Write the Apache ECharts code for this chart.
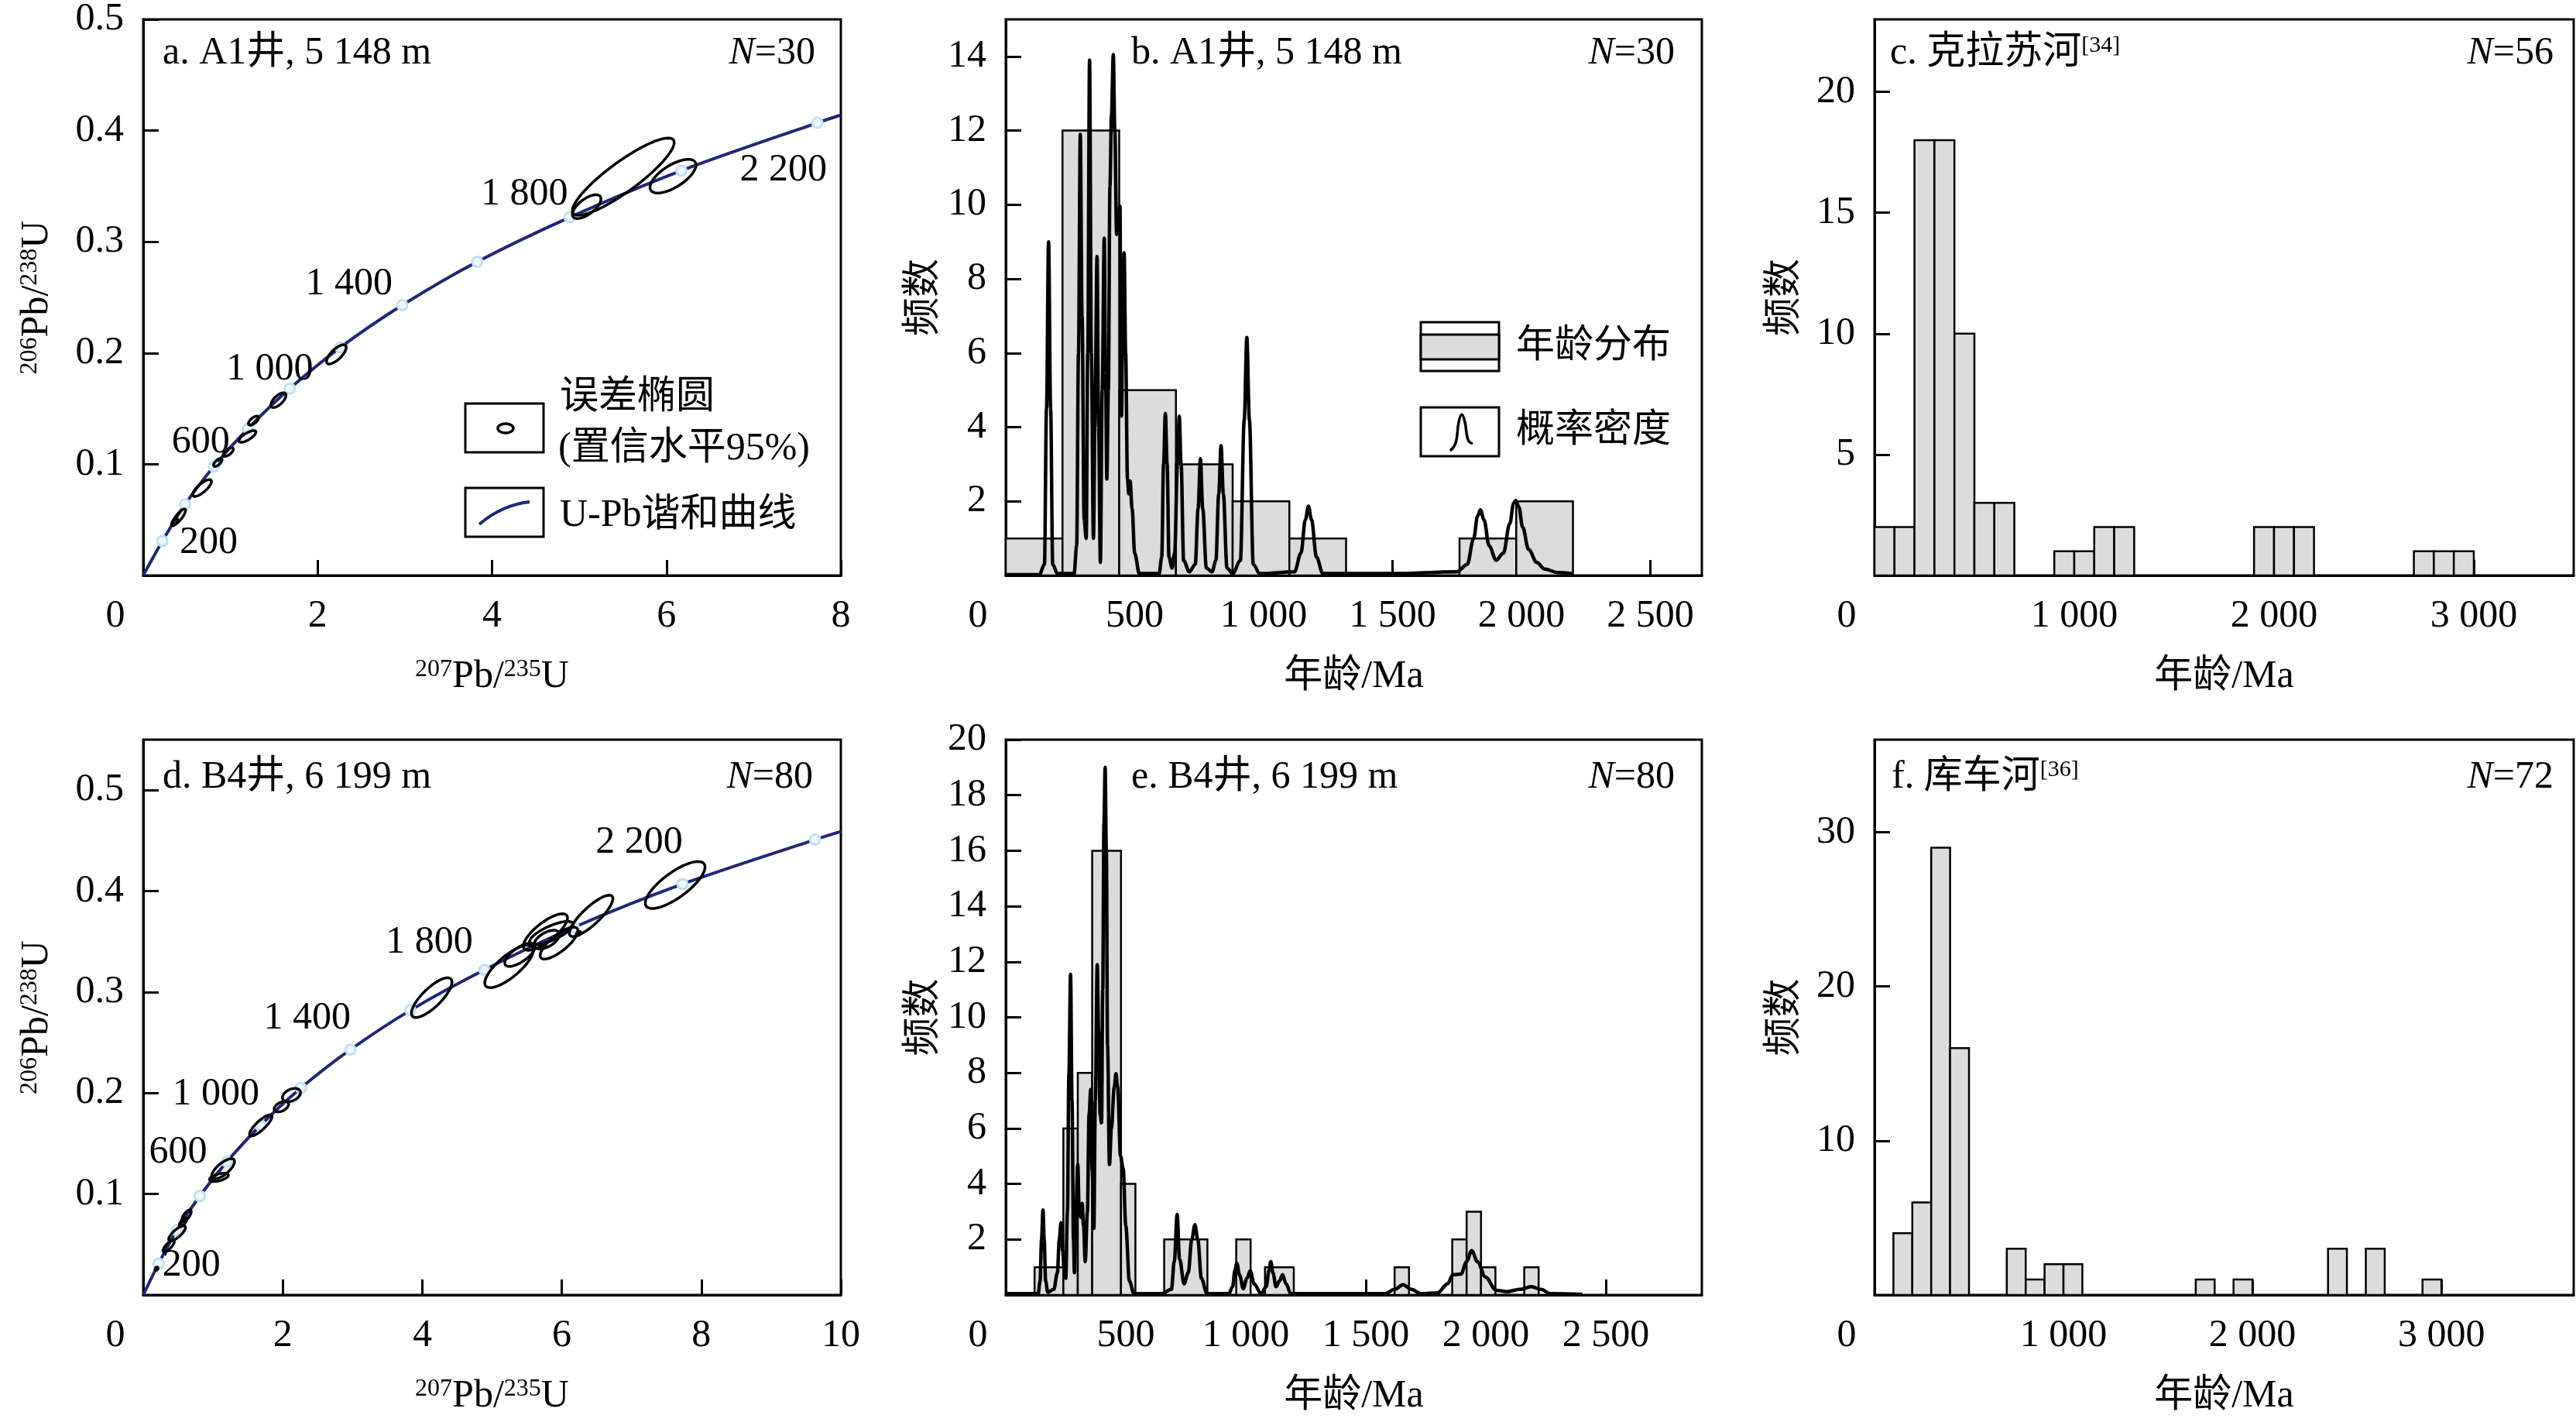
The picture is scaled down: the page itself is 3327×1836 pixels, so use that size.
<!DOCTYPE html>
<html>
<head>
<meta charset="utf-8">
<script src="https://cdn.jsdelivr.net/npm/echarts@6/dist/echarts.min.js"></script>
<style>
  html, body { margin: 0; padding: 0; background: #fff; }
  #chart { width: 3327px; height: 1836px; }
</style>
</head>
<body>
<div id="chart"></div>
<script>
// ---- data ----
// concordia curve points (207Pb/235U, 206Pb/238U), 200 Ma steps
var concordiaA = [[0, 0], [0.22, 0.031], [0.48, 0.064], [0.81, 0.098], [1.20, 0.132], [1.68, 0.168],
  [2.26, 0.205], [2.97, 0.243], [3.83, 0.282], [4.89, 0.322], [6.17, 0.364], [7.73, 0.407], [8, 0.414]];
var concordiaD = [[0, 0], [0.22, 0.031], [0.48, 0.064], [0.81, 0.098], [1.20, 0.132], [1.68, 0.168],
  [2.26, 0.205], [2.97, 0.243], [3.83, 0.282], [4.89, 0.322], [6.17, 0.364], [7.73, 0.407], [9.63, 0.451], [10, 0.459]];
var ageLabelsA = [[0.75, 0.029, '200'], [0.66, 0.12, '600'], [1.45, 0.185, '1 000'], [2.36, 0.262, '1 400'], [4.37, 0.343, '1 800'], [7.34, 0.364, '2 200']];
var ageLabelsD = [[0.69, 0.029, '200'], [0.50, 0.141, '600'], [1.04, 0.199, '1 000'], [2.35, 0.274, '1 400'], [4.10, 0.349, '1 800'], [7.11, 0.448, '2 200']];
// error ellipses: centre x, centre y, half major axis dx, dy, minor/major ratio
var ellipsesA = [
  [5.505, 0.3586, 0.575, 0.033, 0.24], [5.085, 0.3316, 0.155, 0.0092, 0.45], [6.075, 0.359, 0.255, 0.0126, 0.42],
  [2.215, 0.1988, 0.105, 0.008, 0.4], [1.55, 0.1576, 0.08, 0.006, 0.45], [1.265, 0.1392, 0.055, 0.0036, 0.45],
  [1.195, 0.125, 0.095, 0.0046, 0.35], [0.975, 0.111, 0.055, 0.0034, 0.45], [0.855, 0.1016, 0.045, 0.0032, 0.45],
  [0.675, 0.0786, 0.1025, 0.007, 0.35], [0.41, 0.0526, 0.07, 0.007, 0.3], [0.36, 0.048, 0.03, 0.003, 0.5]
];
var ellipsesD = [
  [7.625, 0.406, 0.415, 0.021, 0.35], [6.42, 0.3755, 0.30, 0.0195, 0.3], [5.765, 0.3595, 0.305, 0.0165, 0.35],
  [5.85, 0.3585, 0.31, 0.0095, 0.3], [5.785, 0.352, 0.175, 0.007, 0.5], [5.96, 0.3485, 0.26, 0.0145, 0.35],
  [5.40, 0.337, 0.21, 0.010, 0.4], [5.245, 0.3255, 0.335, 0.0195, 0.35], [6.24, 0.358, 0.03, 0.0015, 0.6],
  [4.135, 0.2945, 0.275, 0.0185, 0.35], [2.125, 0.198, 0.125, 0.004, 0.6], [1.98, 0.1865, 0.10, 0.0035, 0.55],
  [1.685, 0.168, 0.155, 0.010, 0.3], [1.145, 0.125, 0.155, 0.009, 0.4], [1.085, 0.1165, 0.135, 0.0025, 0.35],
  [0.62, 0.0785, 0.06, 0.0055, 0.4], [0.57, 0.072, 0.05, 0.004, 0.4], [0.485, 0.061, 0.115, 0.007, 0.35],
  [0.365, 0.0485, 0.075, 0.0055, 0.35], [0.19, 0.026, 0.015, 0.0015, 0.7]
];
// histograms: bin start (Ma), bin end (Ma), count
var histB = [[0, 220, 1], [220, 440, 12], [440, 660, 5], [660, 880, 3], [880, 1100, 2], [1100, 1320, 1], [1760, 1980, 1], [1980, 2200, 2]];
var histC = [[0, 100, 2], [100, 200, 2], [200, 300, 18], [300, 400, 18], [400, 500, 10], [500, 600, 3], [600, 700, 3],
  [900, 1000, 1], [1000, 1100, 1], [1100, 1200, 2], [1200, 1300, 2], [1900, 2000, 2], [2000, 2100, 2], [2100, 2200, 2],
  [2700, 2800, 1], [2800, 2900, 1], [2900, 3000, 1]];
var histE = [[120, 240, 1], [240, 300, 6], [300, 360, 8], [360, 480, 16], [480, 540, 4], [660, 840, 2], [960, 1020, 2],
  [1080, 1200, 1], [1620, 1680, 1], [1860, 1920, 2], [1920, 1980, 3], [1980, 2040, 1], [2160, 2220, 1]];
var histF = [[100, 200, 4], [200, 300, 6], [300, 400, 29], [400, 500, 16], [700, 800, 3], [800, 900, 1], [900, 1000, 2],
  [1000, 1100, 2], [1700, 1800, 1], [1900, 2000, 1], [2400, 2500, 3], [2600, 2700, 3], [2900, 3000, 1]];
// probability density curves (Ma, value)
var pdpB = [[0, 0.02], [130, 0.02], [150, 0.3], [158, 4.5], [166, 9.0], [174, 4.5], [182, 0.3], [200, 0.05], [265, 0.05],
  [275, 0.8], [282, 6], [289, 11.9], [296, 7], [304, 1.5], [312, 1.0], [318, 6], [325, 13.9], [332, 6], [340, 1.0],
  [347, 5], [354, 8.6], [360, 4], [367, 0.35], [374, 5], [382, 9.1], [387, 5.5], [392, 2.6], [398, 5], [404, 10.5],
  [410, 12.4], [417, 14.05], [423, 12], [430, 9.2], [437, 9.7], [443, 9.96], [446, 7], [449, 4.3], [454, 7], [459, 8.7],
  [465, 6], [472, 2.6], [477, 2.2], [482, 2.55], [490, 1.8], [500, 0.6], [518, 0.05], [595, 0.05], [605, 0.5], [612, 3],
  [619, 4.37], [626, 3], [633, 0.5], [645, 0.2], [655, 0.6], [666, 3], [673, 4.3], [680, 3], [690, 0.4], [712, 0.1],
  [735, 0.3], [746, 1.8], [755, 3.15], [764, 1.8], [778, 0.2], [800, 0.1], [815, 0.4], [826, 2.2], [835, 3.5], [844, 2.2],
  [858, 0.2], [880, 0.05], [910, 0.4], [925, 4.2], [935, 6.42], [945, 4.2], [960, 0.3], [985, 0.05], [1120, 0.1],
  [1145, 0.6], [1162, 1.5], [1174, 1.87], [1186, 1.5], [1205, 0.5], [1230, 0.05], [1500, 0.05], [1750, 0.1], [1790, 0.3],
  [1815, 1.0], [1830, 1.6], [1841, 1.77], [1855, 1.5], [1875, 0.8], [1902, 0.41], [1930, 0.6], [1955, 1.4], [1970, 1.95],
  [1978, 2.02], [1990, 1.85], [2005, 1.3], [2028, 0.7], [2060, 0.35], [2091, 0.17], [2140, 0.08], [2196, 0.05]];
var pdpE = [[0, 0.05], [135, 0.05], [143, 0.5], [149, 2], [155, 3.06], [160, 2], [166, 0.5], [175, 0.1], [200, 0.2],
  [215, 0.8], [223, 2], [230, 2.6], [237, 1.6], [244, 0.8], [250, 0.6], [257, 3], [263, 8], [270, 11.55], [276, 7],
  [282, 2], [286, 0.8], [292, 3], [300, 4.7], [306, 3], [312, 2.8], [318, 3.3], [324, 2.5], [331, 1.2], [340, 3],
  [347, 6.5], [354, 7.4], [360, 4.5], [367, 2.4], [373, 7], [381, 11.9], [387, 9.5], [393, 6.5], [399, 6.2], [404, 11],
  [409, 17], [414, 19.0], [419, 16], [424, 9], [432, 4.7], [440, 6], [452, 7.5], [459, 7.97], [466, 7.5], [478, 5],
  [489, 4.56], [500, 2.5], [515, 0.5], [534, 0.05], [650, 0.05], [690, 0.2], [702, 1.2], [714, 2.9], [724, 1.3],
  [743, 0.4], [760, 0.8], [775, 2], [788, 2.53], [800, 2], [815, 0.6], [838, 0.05], [930, 0.05], [945, 0.3], [955, 0.9],
  [962, 1.15], [975, 0.7], [989, 0.23], [1005, 0.6], [1018, 0.87], [1035, 0.4], [1063, 0.05], [1085, 0.3], [1097, 0.9],
  [1104, 1.2], [1113, 0.8], [1126, 0.3], [1140, 0.5], [1153, 0.73], [1168, 0.4], [1187, 0.05], [1580, 0.05], [1620, 0.2],
  [1655, 0.37], [1690, 0.2], [1730, 0.05], [1800, 0.08], [1840, 0.4], [1863, 0.73], [1896, 0.75], [1920, 1.2],
  [1941, 1.6], [1965, 1.2], [1998, 0.65], [2043, 0.17], [2088, 0.12], [2140, 0.2], [2189, 0.3], [2230, 0.2],
  [2268, 0.05], [2403, 0.02]];
var panelTitles = ['a. A1井, 5 148 m', 'b. A1井, 5 148 m', 'c. 克拉苏河', 'd. B4井, 6 199 m', 'e. B4井, 6 199 m', 'f. 库车河'];
var titleRefs = ['', '', '[34]', '', '', '[36]'];
var sampleN = [30, 30, 56, 80, 80, 72];

// ---- styling / layout ----
var FONT = '"Liberation Serif", "Noto Sans CJK SC", serif';
var FS = 50;
var NAVY = '#1f2778';
var GRAY = '#dcdcdc';
var grids = [
  { left: 185, top: 25, width: 901, height: 718 },
  { left: 1299, top: 25, width: 899, height: 718 },
  { left: 2421, top: 25, width: 903, height: 718 },
  { left: 185, top: 955, width: 901, height: 717 },
  { left: 1299, top: 955, width: 899, height: 717 },
  { left: 2421, top: 955, width: 903, height: 717 }
];
var nameRich = {
  s: { fontSize: 32, fontFamily: FONT, color: '#000', verticalAlign: 'top' },
  m: { fontSize: FS, fontFamily: FONT, color: '#000' }
};

function sepNum(v) {
  var s = String(Math.round(v * 100) / 100);
  if (Math.abs(v) >= 1000) s = s.replace(/\B(?=(\d{3})+(?!\d))/g, ' ');
  return s;
}

function makeX(i, max, interval, showMax, name) {
  return {
    type: 'value', gridIndex: i, min: 0, max: max, interval: interval,
    name: name, nameLocation: 'middle', nameGap: 106,
    nameTextStyle: { fontSize: FS, fontFamily: FONT, color: '#000', rich: nameRich },
    axisLine: { show: true, onZero: false, lineStyle: { color: '#000', width: 3 } },
    axisTick: { show: true, inside: true, length: 20, lineStyle: { color: '#000', width: 3 } },
    axisLabel: {
      margin: 28, fontSize: FS, fontFamily: FONT, color: '#000', showMaxLabel: showMax,
      formatter: function (v) { return v === 0 ? '{z|0}' : sepNum(v); },
      rich: { z: { padding: [0, 72, 0, 0], fontSize: FS, fontFamily: FONT, color: '#000' } }
    },
    splitLine: { show: false }
  };
}

function makeY(i, max, interval, showMax, name, gap) {
  return {
    type: 'value', gridIndex: i, min: 0, max: max, interval: interval,
    name: name, nameLocation: 'middle', nameGap: gap, nameRotate: 90,
    nameTextStyle: { fontSize: FS, fontFamily: FONT, color: '#000', rich: nameRich },
    axisLine: { show: true, onZero: false, lineStyle: { color: '#000', width: 3 } },
    axisTick: { show: true, inside: true, length: 20, lineStyle: { color: '#000', width: 3 } },
    axisLabel: {
      margin: 25, fontSize: FS, fontFamily: FONT, color: '#000', showMinLabel: false, showMaxLabel: showMax,
      formatter: function (v) { return sepNum(v); }
    },
    splitLine: { show: false }
  };
}

function histItem(params, api) {
  var p0 = api.coord([api.value(0), api.value(2)]);
  var p1 = api.coord([api.value(1), 0]);
  return {
    type: 'rect',
    shape: { x: p0[0], y: p0[1], width: p1[0] - p0[0], height: p1[1] - p0[1] },
    style: { fill: GRAY, stroke: '#000', lineWidth: 2.5 }
  };
}

function ellipseItem(params, api) {
  var c = api.coord([api.value(0), api.value(1)]);
  var e = api.coord([api.value(0) + api.value(2), api.value(1) + api.value(3)]);
  var mx = e[0] - c[0], my = e[1] - c[1], r = api.value(4);
  var nx = -my * r, ny = mx * r;
  var pts = [];
  for (var k = 0; k <= 60; k++) {
    var t = k / 60 * Math.PI * 2;
    pts.push([c[0] + mx * Math.cos(t) + nx * Math.sin(t), c[1] + my * Math.cos(t) + ny * Math.sin(t)]);
  }
  return { type: 'polygon', shape: { points: pts }, style: { fill: 'none', stroke: '#000', lineWidth: 3.5 } };
}

function concordiaSeries(i, curve, ells, labels) {
  return [
    {
      type: 'line', xAxisIndex: i, yAxisIndex: i, data: curve, smooth: 0.3, symbol: 'none', silent: true, z: 2,
      lineStyle: { color: NAVY, width: 4 }
    },
    {
      type: 'scatter', xAxisIndex: i, yAxisIndex: i, data: curve.slice(1, -1), symbol: 'circle', symbolSize: 13,
      silent: true, z: 3, itemStyle: { color: '#eef8fd', borderColor: '#bfe2f4', borderWidth: 3, opacity: 1 }
    },
    {
      type: 'custom', xAxisIndex: i, yAxisIndex: i, data: ells, renderItem: ellipseItem, silent: true, z: 4,
      encode: { x: 0, y: 1 }
    },
    {
      type: 'scatter', xAxisIndex: i, yAxisIndex: i, silent: true, z: 5, symbolSize: 0,
      itemStyle: { color: '#000', opacity: 1 },
      data: labels.map(function (d) { return { value: [d[0], d[1]], name: d[2] }; }),
      label: { show: true, position: 'inside', formatter: '{b}', fontSize: FS, fontFamily: FONT, color: '#000', opacity: 1 }
    }
  ];
}

function histSeries(i, hist) {
  return {
    type: 'custom', xAxisIndex: i, yAxisIndex: i, data: hist, renderItem: histItem, silent: true, z: 2,
    encode: { x: [0, 1], y: 2 }
  };
}

function pdpSeries(i, pdp) {
  return {
    type: 'line', xAxisIndex: i, yAxisIndex: i, data: pdp, smooth: 0.35, smoothMonotone: 'x', symbol: 'none',
    silent: true, z: 3, lineStyle: { color: '#000', width: 4.5 }
  };
}

// panel texts
var graphics = [];
var titleY = [69, 69, 69, 1004, 1004, 1004];
var titleX = [210, 1461, 2441, 210, 1461, 2443];
var nX = [1053, 2163, 3298, 1050, 2163, 3298];
var txtRich = {
  t: { fontSize: FS, fontFamily: FONT, color: '#000' },
  s: { fontSize: 30, fontFamily: FONT, color: '#000', verticalAlign: 'top' },
  i: { fontSize: FS, fontFamily: FONT, color: '#000', fontStyle: 'italic' }
};
panelTitles.forEach(function (t, k) {
  graphics.push({
    type: 'text', silent: true, z: 10,
    style: {
      text: '{t|' + t + '}' + (titleRefs[k] ? '{s|' + titleRefs[k] + '}' : ''), rich: txtRich,
      x: titleX[k], y: titleY[k], align: 'left', verticalAlign: 'middle', fontSize: FS, fontFamily: FONT, fill: '#000'
    }
  });
  graphics.push({
    type: 'text', silent: true, z: 10,
    style: {
      text: '{i|N}{t|=' + sampleN[k] + '}', rich: txtRich,
      x: nX[k], y: titleY[k], align: 'right', verticalAlign: 'middle', fontSize: FS, fontFamily: FONT, fill: '#000'
    }
  });
});

function plainText(t, x, y) {
  return {
    type: 'text', silent: true, z: 10,
    style: { text: t, x: x, y: y, align: 'left', verticalAlign: 'middle', fontSize: FS, fontFamily: FONT, fill: '#000' }
  };
}
function box(x, y, w, h, fill) {
  return {
    type: 'rect', silent: true, z: 10, shape: { x: x, y: y, width: w, height: h },
    style: { fill: fill || '#fff', stroke: '#000', lineWidth: 3 }
  };
}

// legend of panel a
graphics.push(box(601, 521, 101, 63));
graphics.push({ type: 'ellipse', silent: true, z: 11, shape: { cx: 653, cy: 553, rx: 10, ry: 6 }, style: { fill: 'none', stroke: '#000', lineWidth: 3.5 } });
graphics.push(box(601, 630, 101, 63));
graphics.push({
  type: 'bezierCurve', silent: true, z: 11,
  shape: { x1: 619, y1: 677, x2: 684, y2: 648, cpx1: 648, cpy1: 652 },
  style: { fill: 'none', stroke: NAVY, lineWidth: 4 }
});
graphics.push(plainText('误差椭圆', 723, 514));
graphics.push(plainText('(置信水平95%)', 721, 580));
graphics.push(plainText('U-Pb谐和曲线', 723, 666));

// legend of panel b
graphics.push(box(1835, 416, 101, 63));
graphics.push(box(1835, 432, 101, 32, GRAY));
graphics.push(box(1835, 526, 101, 63));
graphics.push({
  type: 'polyline', silent: true, z: 11,
  shape: { points: [[1873, 582], [1880, 572], [1884, 545], [1888, 535], [1892, 545], [1896, 568], [1902, 573]], smooth: 0.4 },
  style: { fill: 'none', stroke: '#000', lineWidth: 3.5 }
});
graphics.push(plainText('年龄分布', 1958, 448));
graphics.push(plainText('概率密度', 1958, 557));

var PB206 = '{s|206}{m|Pb/}{s|238}{m|U}';
var PB207 = '{s|207}{m|Pb/}{s|235}{m|U}';

var chart = echarts.init(document.getElementById('chart'));
chart.setOption({
  animation: false,
  backgroundColor: '#fff',
  grid: grids.map(function (g) {
    return { left: g.left, top: g.top, width: g.width, height: g.height, show: true, borderColor: '#000', borderWidth: 3, containLabel: false };
  }),
  xAxis: [
    makeX(0, 8, 2, true, PB207),
    makeX(1, 2700, 500, false, '年龄/Ma'),
    makeX(2, 3500, 1000, false, '年龄/Ma'),
    makeX(3, 10, 2, true, PB207),
    makeX(4, 2900, 500, false, '年龄/Ma'),
    makeX(5, 3700, 1000, false, '年龄/Ma')
  ],
  yAxis: [
    makeY(0, 0.5, 0.1, true, PB206, 112),
    makeY(1, 15, 2, false, '频数', 80),
    makeY(2, 23, 5, false, '频数', 90),
    makeY(3, 0.55, 0.1, false, PB206, 112),
    makeY(4, 20, 2, true, '频数', 80),
    makeY(5, 36, 10, false, '频数', 90)
  ],
  series: [].concat(
    concordiaSeries(0, concordiaA, ellipsesA, ageLabelsA),
    [histSeries(1, histB), pdpSeries(1, pdpB), histSeries(2, histC)],
    concordiaSeries(3, concordiaD, ellipsesD, ageLabelsD),
    [histSeries(4, histE), pdpSeries(4, pdpE), histSeries(5, histF)]
  ),
  graphic: graphics
});
</script>
</body>
</html>
